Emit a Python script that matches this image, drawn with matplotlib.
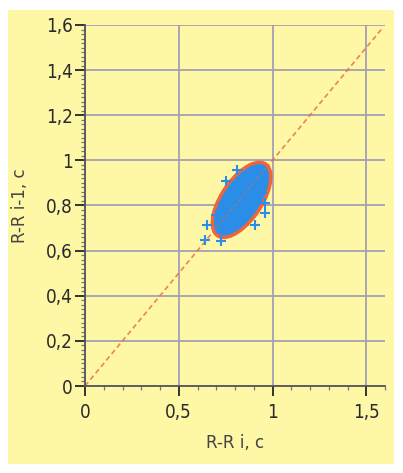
import matplotlib
matplotlib.use("Agg")
import matplotlib.pyplot as plt
from matplotlib.patches import Ellipse, Rectangle
from matplotlib.ticker import FixedLocator, MultipleLocator, FuncFormatter

# R-R scatter (Poincare plot): outlying points
rr_i = [0.809, 0.752, 0.649, 0.640, 0.725, 0.906, 0.959, 0.962, 0.945, 0.700]
rr_prev = [0.957, 0.909, 0.714, 0.647, 0.644, 0.712, 0.765, 0.810, 0.855, 0.760]

# dense core of the cloud, drawn as its enclosing ellipse
cloud_center = (0.835, 0.825)
cloud_len = 0.41      # along the diagonal
cloud_wid = 0.20      # across
cloud_angle = 48

diag_end = 1.58
x_ticks = [0, 0.5, 1, 1.5]
y_ticks = [0, 0.2, 0.4, 0.6, 0.8, 1.0, 1.2, 1.4, 1.6]

YELLOW = "#fdf7a6"
GRID = "#a4a0b4"
BLUE = "#2a8ee8"
RED = "#f0643c"

plt.rcParams['font.family'] = ['DejaVu Sans']

fig = plt.figure(figsize=(4.03, 4.73), dpi=100, facecolor="white")
fig.patches.append(Rectangle((8 / 403, 9 / 473), 386 / 403, 454 / 473,
                             transform=fig.transFigure, facecolor=YELLOW,
                             edgecolor="none", zorder=-10))

ax = fig.add_axes([85 / 403, 87 / 473, 300 / 403, 361 / 473])
ax.set_facecolor(YELLOW)
ax.set_xlim(0, 1.6)
ax.set_ylim(0, 1.6)

for s in ("top", "right"):
    ax.spines[s].set_visible(False)
for s in ("left", "bottom"):
    ax.spines[s].set_color("#555555")
    ax.spines[s].set_linewidth(1.3)

ax.xaxis.set_major_locator(FixedLocator(x_ticks))
ax.yaxis.set_major_locator(FixedLocator(y_ticks))
ax.xaxis.set_minor_locator(MultipleLocator(0.1))
ax.yaxis.set_minor_locator(MultipleLocator(0.02))
fmt = FuncFormatter(lambda v, p: f"{v:g}".replace(".", ","))
ax.xaxis.set_major_formatter(fmt)
ax.yaxis.set_major_formatter(fmt)

ax.tick_params(which="major", direction="out", length=7, width=1.4,
               color="#333333", labelsize=13.5, labelcolor="#2a2a2a")
ax.tick_params(which="minor", direction="out", length=3, width=0.9,
               color="#777777")
ax.tick_params(axis="x", which="major", pad=5)
ax.tick_params(axis="y", which="major", pad=2)
for lab in ax.get_xticklabels() + ax.get_yticklabels():
    lab.set_fontstretch("condensed")

ax.grid(True, which="major", color=GRID, linewidth=1.3)
ax.set_axisbelow(True)

ax.plot([0, diag_end], [0, diag_end], linestyle=(0, (3, 2)), color=RED,
        linewidth=1.2, alpha=0.8, zorder=2)

ax.add_patch(Ellipse(cloud_center, cloud_len, cloud_wid, angle=cloud_angle,
                     facecolor=BLUE, edgecolor=RED, linewidth=2.5, zorder=3))
ax.scatter(rr_i, rr_prev, marker="+", s=45, color=BLUE, linewidths=1.5,
           zorder=4)
ax.plot([0.70, 0.97], [0.70, 0.97], linestyle=(0, (3, 2)), color=RED,
        linewidth=1.0, alpha=0.5, zorder=5)

ax.set_xlabel("R-R i, c", fontsize=12, color="#444444", labelpad=9)
ax.set_ylabel("R-R i-1, c", fontsize=12, color="#444444", labelpad=12)

fig.savefig("out.png", dpi=100, facecolor="white")
